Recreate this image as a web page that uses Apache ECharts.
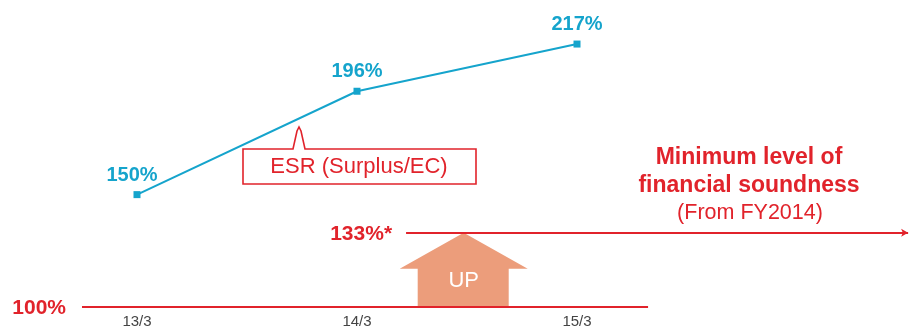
<!DOCTYPE html>
<html>
<head>
<meta charset="utf-8">
<style>
  html, body { margin: 0; padding: 0; background: #fff; }
  #chart { width: 910px; height: 327px; }
</style>
<script src="https://cdn.jsdelivr.net/npm/echarts@6/dist/echarts.min.js"></script>
</head>
<body>
<div id="chart"></div>
<script>
// Fiscal year-end periods and ESR values (%)
const periods = ['13/3', '14/3', '15/3'];
const esrValues = [150, 196, 217];
// Reference levels (%)
const baseLevel = 100;
const minLevel = 133;

const RED = '#E1232B';
const BLUE = '#15A4CC';
const FONT = '"Liberation Sans", Arial, sans-serif';

// Horizontal extents of the two reference lines, in x-axis units (period index)
const baseSpan = [-0.25, 2.323];
const minSpan = [1.223, 3.505];

const chart = echarts.init(document.getElementById('chart'), null, { renderer: 'canvas' });

const option = {
  animation: false,
  grid: { left: 0, right: 0, top: 0, bottom: 20, outerBoundsMode: 'none', containLabel: false },
  xAxis: {
    type: 'value',
    min: -0.6227,
    max: 3.5136,
    splitLine: { show: false },
    axisLine: { show: false },
    axisTick: { show: false },
    axisLabel: {
      customValues: periods.map((p, i) => i),
      formatter: v => periods[Math.round(v)] || '',
      color: '#444',
      fontSize: 15,
      fontFamily: FONT,
      margin: 7
    }
  },
  yAxis: {
    type: 'value',
    min: 100,
    max: 236.6,
    show: false
  },
  series: [
    {
      type: 'line',
      data: esrValues.map((v, i) => [i, v]),
      symbol: 'rect',
      symbolSize: 7,
      lineStyle: { color: BLUE, width: 2 },
      itemStyle: { color: BLUE },
      label: {
        show: true,
        position: 'top',
        distance: 6,
        formatter: p => p.value[1] + '%',
        color: BLUE,
        fontSize: 20,
        fontWeight: 'bold',
        fontFamily: FONT
      },
      labelLayout: p => (p.dataIndex === 0 ? { dx: -5 } : {}),
      z: 5
    },
    {
      // reference lines
      type: 'line',
      data: [],
      markLine: {
        silent: true,
        animation: false,
        label: { show: false },
        lineStyle: { color: RED, width: 2, type: 'solid' },
        data: [
          [
            { coord: [baseSpan[0], baseLevel], symbol: 'none' },
            { coord: [baseSpan[1], baseLevel], symbol: 'none' }
          ],
          [
            { coord: [minSpan[0], minLevel], symbol: 'none' },
            { coord: [minSpan[1], minLevel], symbol: 'arrow', symbolSize: [6, 7] }
          ]
        ]
      },
      z: 3
    }
  ]
};
chart.setOption(option);

// Decorations positioned from the axis scales
const px = (x, y) => chart.convertToPixel({ gridIndex: 0 }, [x, y]);
const pBase = px(1.5, baseLevel);
const pMin = px(1.5, minLevel);
const arrowCx = px(1.485, baseLevel)[0];
const arrowBottom = pBase[1] - 1;
const arrowTip = pMin[1];
const shoulder = arrowTip + 36;

const pBaseLeft = px(baseSpan[0], baseLevel);
const pMinLeft = px(minSpan[0], minLevel);

chart.setOption({
  graphic: [
    // "UP" arrow between the two levels
    {
      type: 'polygon',
      z: 1,
      shape: {
        points: [
          [arrowCx, arrowTip],
          [arrowCx + 64, shoulder],
          [arrowCx + 45, shoulder],
          [arrowCx + 45, arrowBottom],
          [arrowCx - 46, arrowBottom],
          [arrowCx - 46, shoulder],
          [arrowCx - 64, shoulder]
        ]
      },
      style: { fill: '#EC9D7B' }
    },
    {
      type: 'text',
      z: 2,
      x: arrowCx,
      y: arrowBottom - 25,
      style: {
        text: 'UP', fill: '#fff', fontSize: 22, fontFamily: FONT,
        textAlign: 'center', textVerticalAlign: 'middle'
      }
    },
    // level labels
    {
      type: 'text',
      x: pBaseLeft[0] - 16,
      y: pBaseLeft[1] + 1,
      style: {
        text: baseLevel + '%', fill: RED, fontSize: 21, fontWeight: 'bold', fontFamily: FONT,
        textAlign: 'right', textVerticalAlign: 'middle'
      }
    },
    {
      type: 'text',
      x: pMinLeft[0] - 14,
      y: pMinLeft[1] + 1,
      style: {
        text: minLevel + '%*', fill: RED, fontSize: 21, fontWeight: 'bold', fontFamily: FONT,
        textAlign: 'right', textVerticalAlign: 'middle'
      }
    },
    // minimum level caption
    {
      type: 'text',
      x: 749,
      y: 158,
      style: {
        text: 'Minimum level of', fill: RED, fontSize: 23, fontWeight: 'bold', fontFamily: FONT,
        textAlign: 'center', textVerticalAlign: 'middle'
      }
    },
    {
      type: 'text',
      x: 749,
      y: 186,
      style: {
        text: 'financial soundness', fill: RED, fontSize: 23, fontWeight: 'bold', fontFamily: FONT,
        textAlign: 'center', textVerticalAlign: 'middle'
      }
    },
    {
      type: 'text',
      x: 750,
      y: 213,
      style: {
        text: '(From FY2014)', fill: RED, fontSize: 21.5, fontFamily: FONT,
        textAlign: 'center', textVerticalAlign: 'middle'
      }
    },
    // series callout
    {
      type: 'polygon',
      z: 4,
      shape: {
        points: [
          [243, 149], [293, 149], [297, 131], [299, 127], [301, 131], [305, 149],
          [476, 149], [476, 184], [243, 184]
        ]
      },
      style: { fill: '#fff', stroke: RED, lineWidth: 1.6 }
    },
    {
      type: 'text',
      z: 5,
      x: 359,
      y: 167,
      style: {
        text: 'ESR (Surplus/EC)', fill: RED, fontSize: 22, fontFamily: FONT,
        textAlign: 'center', textVerticalAlign: 'middle'
      }
    }
  ]
});
</script>
</body>
</html>
